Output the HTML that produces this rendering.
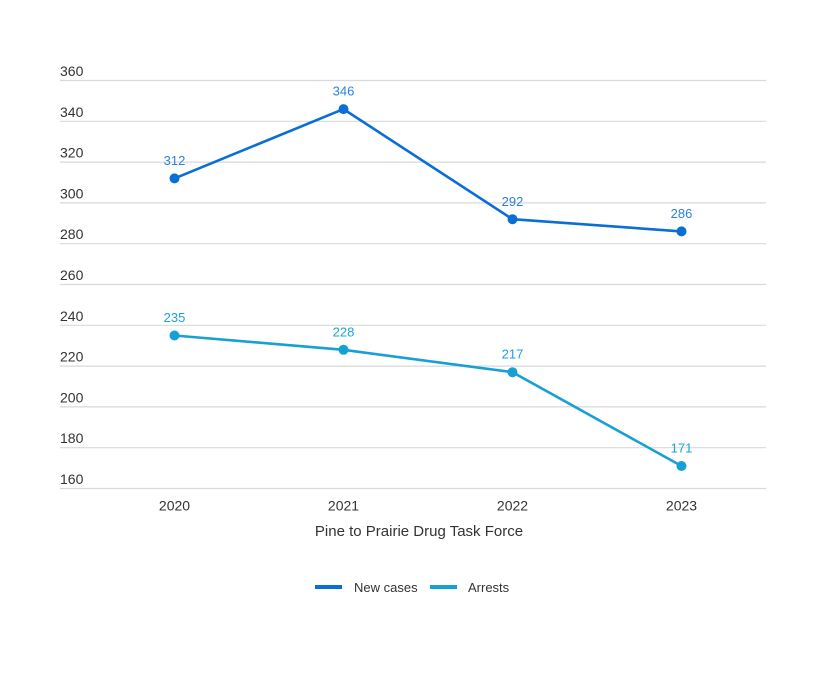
<!DOCTYPE html>
<html>
<head>
<meta charset="utf-8">
<style>
  html, body { margin: 0; padding: 0; background: #ffffff; }
  svg { display: block; }
  text { font-family: "Liberation Sans", sans-serif; }
</style>
</head>
<body>
<svg width="840" height="673" viewBox="0 0 840 673" xmlns="http://www.w3.org/2000/svg">
  <rect width="840" height="673" fill="#ffffff"/>
  <!-- gridlines -->
  <g stroke="#d9d9d9" stroke-width="1.2">
    <line x1="60" y1="80.5" x2="766" y2="80.5"/>
    <line x1="60" y1="121.3" x2="766" y2="121.3"/>
    <line x1="60" y1="162.1" x2="766" y2="162.1"/>
    <line x1="60" y1="202.9" x2="766" y2="202.9"/>
    <line x1="60" y1="243.7" x2="766" y2="243.7"/>
    <line x1="60" y1="284.5" x2="766" y2="284.5"/>
    <line x1="60" y1="325.3" x2="766" y2="325.3"/>
    <line x1="60" y1="366.1" x2="766" y2="366.1"/>
    <line x1="60" y1="406.9" x2="766" y2="406.9"/>
    <line x1="60" y1="447.7" x2="766" y2="447.7"/>
    <line x1="60" y1="488.5" x2="766" y2="488.5"/>
  </g>
  <!-- y labels -->
  <g fill="#333333" font-size="14">
    <text x="60" y="76">360</text>
    <text x="60" y="116.8">340</text>
    <text x="60" y="157.6">320</text>
    <text x="60" y="198.4">300</text>
    <text x="60" y="239.2">280</text>
    <text x="60" y="280">260</text>
    <text x="60" y="320.8">240</text>
    <text x="60" y="361.6">220</text>
    <text x="60" y="402.4">200</text>
    <text x="60" y="443.2">180</text>
    <text x="60" y="484">160</text>
  </g>
  <!-- x labels -->
  <g fill="#333333" font-size="14" text-anchor="middle">
    <text x="174.5" y="510.5">2020</text>
    <text x="343.5" y="510.5">2021</text>
    <text x="512.5" y="510.5">2022</text>
    <text x="681.5" y="510.5">2023</text>
  </g>
  <text x="419" y="536" fill="#333333" font-size="15" text-anchor="middle">Pine to Prairie Drug Task Force</text>

  <!-- New cases -->
  <polyline points="174.5,178.4 343.5,109.1 512.5,219.2 681.5,231.4" fill="none" stroke="#0a6fd4" stroke-width="2.6" stroke-linejoin="round"/>
  <g fill="#0a6fd4">
    <circle cx="174.5" cy="178.4" r="5"/>
    <circle cx="343.5" cy="109.1" r="5"/>
    <circle cx="512.5" cy="219.2" r="5"/>
    <circle cx="681.5" cy="231.4" r="5"/>
  </g>
  <g fill="#2a82dc" font-size="13" text-anchor="middle">
    <text x="174.5" y="165">312</text>
    <text x="343.5" y="95.7">346</text>
    <text x="512.5" y="205.8">292</text>
    <text x="681.5" y="218">286</text>
  </g>

  <!-- Arrests -->
  <polyline points="174.5,335.5 343.5,349.8 512.5,372.2 681.5,466" fill="none" stroke="#16a0d4" stroke-width="2.6" stroke-linejoin="round"/>
  <g fill="#16a0d4">
    <circle cx="174.5" cy="335.5" r="5"/>
    <circle cx="343.5" cy="349.8" r="5"/>
    <circle cx="512.5" cy="372.2" r="5"/>
    <circle cx="681.5" cy="466" r="5"/>
  </g>
  <g fill="#1ba3d6" font-size="13" text-anchor="middle">
    <text x="174.5" y="322">235</text>
    <text x="343.5" y="336.3">228</text>
    <text x="512.5" y="358.7">217</text>
    <text x="681.5" y="452.5">171</text>
  </g>

  <!-- legend -->
  <line x1="315" y1="587" x2="342" y2="587" stroke="#0a6fd4" stroke-width="4"/>
  <text x="354" y="592" fill="#333333" font-size="13">New cases</text>
  <line x1="430" y1="587" x2="457" y2="587" stroke="#16a0d4" stroke-width="4"/>
  <text x="468" y="592" fill="#333333" font-size="13">Arrests</text>
</svg>
</body>
</html>
